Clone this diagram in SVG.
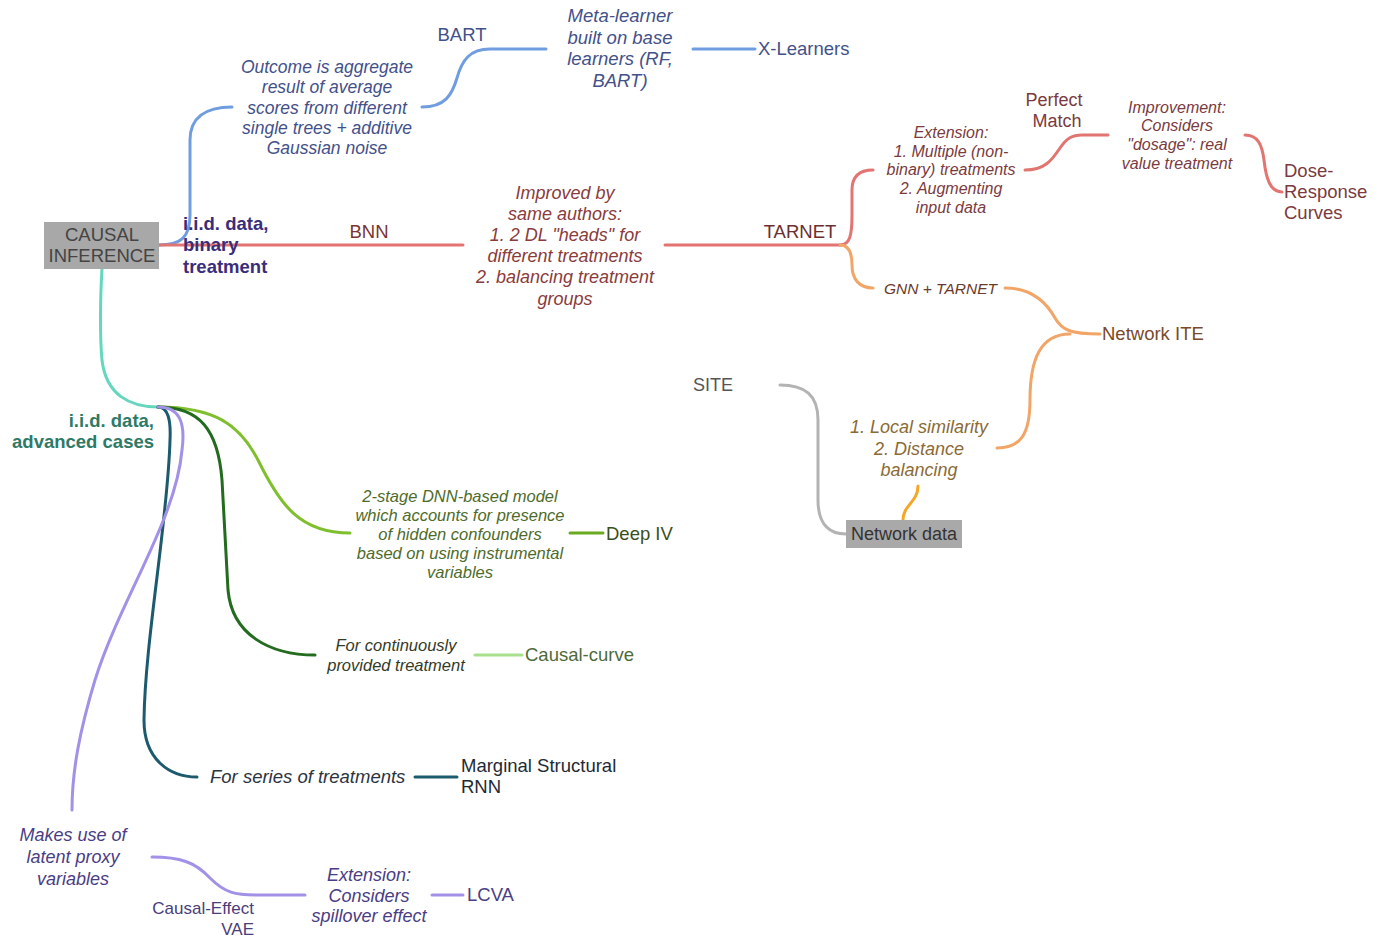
<svg xmlns="http://www.w3.org/2000/svg" width="1385" height="938" viewBox="0 0 1385 938">
<style>
text{font-family:"Liberation Sans",Arial,sans-serif;}
.c{text-anchor:middle}
.e{text-anchor:end}
.i{font-style:italic}
.b{font-weight:bold}
.l{fill:none;stroke-width:3;stroke-linecap:round}
.blue{stroke:#6f9de0}.red{stroke:#e27571}.org{stroke:#f1a567}.gold{stroke:#f5a623}
.gray{stroke:#b3b3b3}.turq{stroke:#64d7be}.lg{stroke:#7fbf2e}.dg{stroke:#236b1e}
.pg{stroke:#a8e08e}.teal{stroke:#1c5a6e}.pur{stroke:#a291e6}
</style>
<rect width="1385" height="938" fill="#ffffff"/>
<g id="connectors">
<path class="l blue" d="M159,245 C180,245 190,238 190,215 L190,140 C190,118 205,107 232,107"/>
<path class="l blue" d="M422,107 C445,107 452,95 457,78 C462,60 470,49 490,49 L546,49"/>
<path class="l blue" d="M693,49 L755,49"/>
<path class="l red" d="M159,245 L463,245"/>
<path class="l red" d="M665,245 L840,245"/>
<path class="l red" d="M840,245 C850,245 852,235 852,215 L852,190 C852,176 860,170 873,170"/>
<path class="l red" d="M1025,170 C1045,170 1052,160 1060,148 C1067,138 1072,135 1082,135 L1108,135"/>
<path class="l red" d="M1245,135 C1258,135 1262,145 1264,160 C1266,178 1270,192 1282,192"/>
<path class="l org" d="M840,245 C850,245 852,255 852,265 C852,280 860,288 873,288"/>
<path class="l org" d="M1005,288 C1030,288 1045,300 1055,318 C1062,330 1070,334 1100,334"/>
<path class="l org" d="M997,448 C1020,448 1030,435 1030,400 C1030,360 1040,334 1070,334"/>
<path class="l gold" d="M918,486 C918,502 903,505 903,520"/>
<path class="l gray" d="M780,385 C805,385 818,395 818,420 L818,500 C818,525 830,534 846,534"/>
<path class="l turq" d="M102,269 C100,300 100,340 102,360 C106,395 130,407 158,407"/>
<path class="l lg" d="M158,407 C215,407 240,425 258,460 C280,505 300,533 350,533"/>
<path class="l" style="stroke:#6aaa20" d="M570,533 L603,533"/>
<path class="l dg" d="M158,407 C200,407 218,430 222,480 L228,590 C232,635 270,655 315,655"/>
<path class="l pg" d="M475,655 L522,655"/>
<path class="l teal" d="M158,407 C168,407 171,420 170,440 C168,520 145,640 144,720 C144,760 170,777 197,777"/>
<path class="l teal" d="M415,777 L457,777"/>
<path class="l pur" d="M158,407 C178,407 186,420 182,450 C176,520 120,600 95,680 C80,730 72,770 72,810"/>
<path class="l pur" d="M152,857 C180,857 195,862 210,878 C225,893 235,895 258,895 L305,895"/>
<path class="l pur" d="M432,895 L463,895"/>
</g>
<g id="root">
<rect x="44" y="222" width="115" height="47" fill="#a8a8a8"/>
<text class="c" x="102" y="241" font-size="18.5" fill="#444">CAUSAL</text>
<text class="c" x="102" y="262" font-size="18.5" fill="#444">INFERENCE</text>
</g>
<g id="iid-binary">
<text class="b" x="183" y="230" font-size="18.5" fill="#3a2d7a">i.i.d. data,</text>
<text class="b" x="183" y="251" font-size="18.5" fill="#3a2d7a">binary</text>
<text class="b" x="183" y="273" font-size="18.5" fill="#3a2d7a">treatment</text>
</g>
<g id="outcome-note">
<text class="c i" font-size="17.5" fill="#43518a"><tspan x="327" y="73">Outcome is aggregate</tspan><tspan x="327" y="93">result of average</tspan><tspan x="327" y="114">scores from different</tspan><tspan x="327" y="134">single trees + additive</tspan><tspan x="327" y="154">Gaussian noise</tspan></text>
</g>
<g id="bart"><text class="c" x="462" y="41" font-size="18.5" fill="#43518a">BART</text></g>
<g id="meta-note">
<text class="c i" font-size="18.5" fill="#43518a"><tspan x="620" y="22">Meta-learner</tspan><tspan x="620" y="44">built on base</tspan><tspan x="620" y="65">learners (RF,</tspan><tspan x="620" y="87">BART)</tspan></text>
</g>
<g id="x-learners"><text x="758" y="55" font-size="18.5" fill="#43518a">X-Learners</text></g>
<g id="bnn"><text class="c" x="369" y="238" font-size="18.5" fill="#7a3535">BNN</text></g>
<g id="improved-note">
<text class="c i" font-size="18" fill="#8a3b3b"><tspan x="565" y="199">Improved by</tspan><tspan x="565" y="220">same authors:</tspan><tspan x="565" y="241">1. 2 DL "heads" for</tspan><tspan x="565" y="262">different treatments</tspan><tspan x="565" y="283">2. balancing treatment</tspan><tspan x="565" y="305">groups</tspan></text>
</g>
<g id="tarnet"><text class="c" x="800" y="238" font-size="18.5" fill="#6b2f2f">TARNET</text></g>
<g id="extension-note">
<text class="c i" font-size="16" fill="#7b3a3e"><tspan x="951" y="138">Extension:</tspan><tspan x="951" y="157">1. Multiple (non-</tspan><tspan x="951" y="175">binary) treatments</tspan><tspan x="951" y="194">2. Augmenting</tspan><tspan x="951" y="213">input data</tspan></text>
</g>
<g id="perfect-match">
<text class="c" x="1054" y="106" font-size="18" fill="#7a3a40">Perfect</text>
<text class="c" x="1057" y="127" font-size="18" fill="#7a3a40">Match</text>
</g>
<g id="improvement-note">
<text class="c i" font-size="16" fill="#7b3a3e"><tspan x="1177" y="113">Improvement:</tspan><tspan x="1177" y="131">Considers</tspan><tspan x="1177" y="150">"dosage": real</tspan><tspan x="1177" y="169">value treatment</tspan></text>
</g>
<g id="dose-response">
<text font-size="18.5" fill="#7a3a40"><tspan x="1284" y="177">Dose-</tspan><tspan x="1284" y="198">Response</tspan><tspan x="1284" y="219">Curves</tspan></text>
</g>
<g id="gnn-tarnet"><text class="i" x="884" y="294" font-size="15.5" fill="#6b3a2a">GNN + TARNET</text></g>
<g id="network-ite"><text x="1102" y="340" font-size="18.5" fill="#7a4a2a">Network ITE</text></g>
<g id="site"><text x="693" y="391" font-size="18" fill="#555">SITE</text></g>
<g id="similarity-note">
<text class="c i" font-size="18" fill="#8b6a35"><tspan x="919" y="433">1. Local similarity</tspan><tspan x="919" y="455">2. Distance</tspan><tspan x="919" y="476">balancing</tspan></text>
</g>
<g id="network-data">
<rect x="846" y="520" width="116" height="28" fill="#a9a9a9"/>
<text class="c" x="904" y="540" font-size="18" fill="#333">Network data</text>
</g>
<g id="iid-advanced">
<text class="e b" x="154" y="427" font-size="18.5" fill="#2f7a66">i.i.d. data,</text>
<text class="e b" x="154" y="448" font-size="18.5" fill="#2f7a66">advanced cases</text>
</g>
<g id="deepiv-note">
<text class="c i" font-size="16.5" fill="#4e6b2a"><tspan x="460" y="502">2-stage DNN-based model</tspan><tspan x="460" y="521">which accounts for presence</tspan><tspan x="460" y="540">of hidden confounders</tspan><tspan x="460" y="559">based on using instrumental</tspan><tspan x="460" y="578">variables</tspan></text>
</g>
<g id="deep-iv"><text x="606" y="540" font-size="18.5" fill="#3a4f1a">Deep IV</text></g>
<g id="continuous-note">
<text class="c i" font-size="16.5" fill="#333a28"><tspan x="396" y="651">For continuously</tspan><tspan x="396" y="671">provided treatment</tspan></text>
</g>
<g id="causal-curve"><text x="525" y="661" font-size="18.5" fill="#4f6b3a">Causal-curve</text></g>
<g id="series-note"><text class="i" x="210" y="783" font-size="18.5" fill="#2b3440">For series of treatments</text></g>
<g id="msrnn">
<text font-size="18.5" fill="#1e2a35"><tspan x="461" y="772">Marginal Structural</tspan><tspan x="461" y="793">RNN</tspan></text>
</g>
<g id="latent-note">
<text class="c i" font-size="18" fill="#4a3d85"><tspan x="73" y="841">Makes use of</tspan><tspan x="73" y="863">latent proxy</tspan><tspan x="73" y="885">variables</tspan></text>
</g>
<g id="cevae">
<text class="e" font-size="17" fill="#4a3d7a"><tspan x="254" y="914">Causal-Effect</tspan><tspan x="254" y="935">VAE</tspan></text>
</g>
<g id="spillover-note">
<text class="c i" font-size="18" fill="#4a3d85"><tspan x="369" y="881">Extension:</tspan><tspan x="369" y="902">Considers</tspan><tspan x="369" y="922">spillover effect</tspan></text>
</g>
<g id="lcva"><text x="467" y="901" font-size="18.5" fill="#4a3d85">LCVA</text></g>
</svg>
